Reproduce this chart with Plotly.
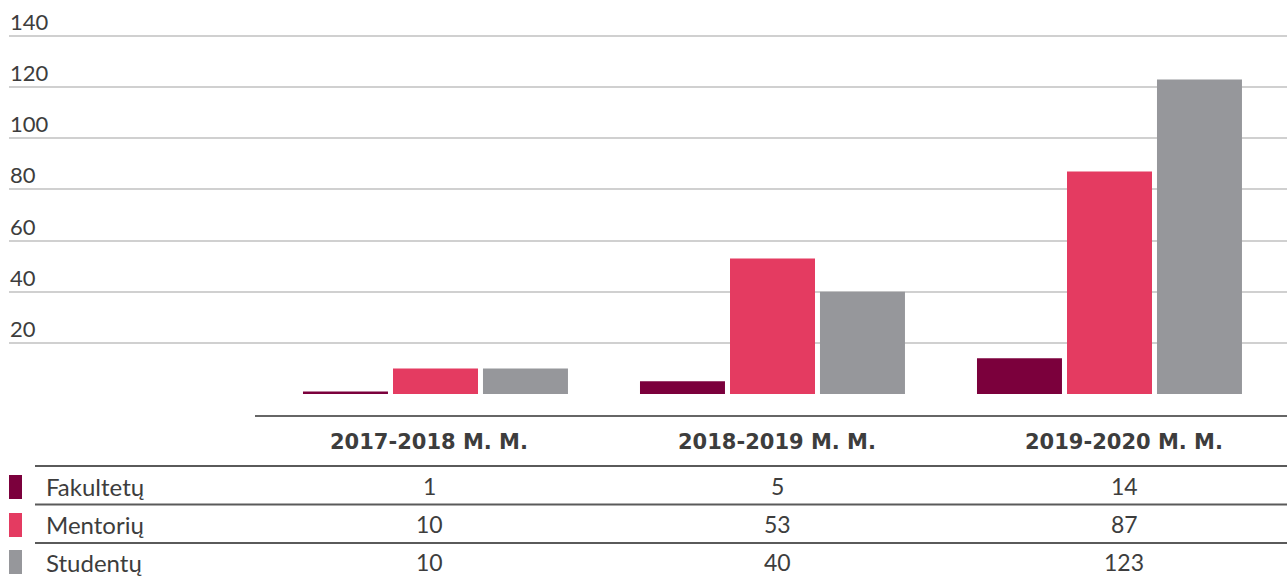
import plotly.graph_objects as go

# Academic years and counts per group
years = ["2017-2018 M. M.", "2018-2019 M. M.", "2019-2020 M. M."]
series_names = ["Fakultetų", "Mentorių", "Studentų"]
fakultetu = [1, 5, 14]
mentoriu = [10, 53, 87]
studentu = [10, 40, 123]
y_ticks = [20, 40, 60, 80, 100, 120, 140]

series_values = [fakultetu, mentoriu, studentu]
colors = ["#7b003c", "#e43b61", "#96979b"]

W, H = 1287, 576
TEXT = "#3d3d3d"


def px(x):
    return x / W


def py(y):
    return 1 - y / H


# bar geometry (in category units): three bars per group
bar_w = 0.2522
offsets = [-0.3932, -0.1261, 0.1409]

fig = go.Figure()
for name, vals, col, off in zip(series_names, series_values, colors, offsets):
    fig.add_trace(go.Bar(
        x=years, y=vals, name=name, marker=dict(color=col, line=dict(width=0)),
        width=bar_w, offset=off, showlegend=False, hoverinfo="x+y+name",
    ))

# x range so that group centres fall at the table columns
x0_px, x1_px = 9, 1287
c0, step = 435.5, 337.0
fig.update_xaxes(
    type="category", domain=[px(x0_px), 1],
    range=[(x0_px - c0) / step, (x1_px - c0) / step],
    showticklabels=False, showgrid=False, zeroline=False, showline=False,
    fixedrange=True,
)

# value axis: 0 sits at y=394 px, 2.557 px per unit, small headroom above 140
base_px, unit_px, y_top = 394, 358 / 140, 142
fig.update_yaxes(
    range=[0, y_top], domain=[py(base_px), py(base_px - y_top * unit_px)],
    tickvals=y_ticks, showticklabels=False, ticks="",
    showgrid=True, gridcolor="#d0d0d0", gridwidth=2,
    zeroline=False, showline=False, fixedrange=True,
)

shapes = []
annotations = []

# tick labels sit just above their gridlines, flush with the left edge
for v in y_ticks:
    annotations.append(dict(
        text=str(v), xref="paper", yref="y", x=px(x0_px), y=v,
        xanchor="left", yanchor="bottom", showarrow=False, borderpad=0,
        font=dict(family="Lato", size=22, color=TEXT),
    ))

# header rule and row rules of the table
shapes.append(dict(type="line", xref="paper", yref="paper",
                   x0=px(255), x1=1, y0=py(416), y1=py(416),
                   line=dict(color="#666666", width=2)))
for yy in [466, 504.5, 543]:
    shapes.append(dict(type="line", xref="paper", yref="paper",
                       x0=px(35), x1=1, y0=py(yy), y1=py(yy),
                       line=dict(color="#5a5a5a", width=2)))

col_centers = [429, 777, 1124]
for yr, cx in zip(years, col_centers):
    annotations.append(dict(
        text=f"<b>{yr}</b>", xref="paper", yref="paper",
        x=px(cx), y=py(442), xanchor="center", yanchor="middle",
        showarrow=False, font=dict(family="DejaVu Sans", size=21, color=TEXT),
    ))

row_centers = [486, 524, 562]
swatch_tops = [475, 513, 550]
for name, vals, col, ry, st in zip(series_names, series_values, colors,
                                   row_centers, swatch_tops):
    shapes.append(dict(type="rect", xref="paper", yref="paper",
                       x0=px(9), x1=px(22), y0=py(st + 24), y1=py(st),
                       fillcolor=col, line=dict(width=0)))
    annotations.append(dict(
        text=name, xref="paper", yref="paper", x=px(44), y=py(ry),
        xanchor="left", yanchor="middle", showarrow=False,
        font=dict(family="Lato", size=24, color=TEXT),
    ))
    for v, cx in zip(vals, col_centers):
        annotations.append(dict(
            text=str(v), xref="paper", yref="paper", x=px(cx), y=py(ry),
            xanchor="center", yanchor="middle", showarrow=False,
            font=dict(family="Lato", size=23, color=TEXT),
        ))

fig.update_layout(
    width=W, height=H, margin=dict(l=0, r=0, t=0, b=0),
    paper_bgcolor="white", plot_bgcolor="white",
    shapes=shapes, annotations=annotations, showlegend=False,
)

fig.write_html("out.html", config={"displayModeBar": False})
